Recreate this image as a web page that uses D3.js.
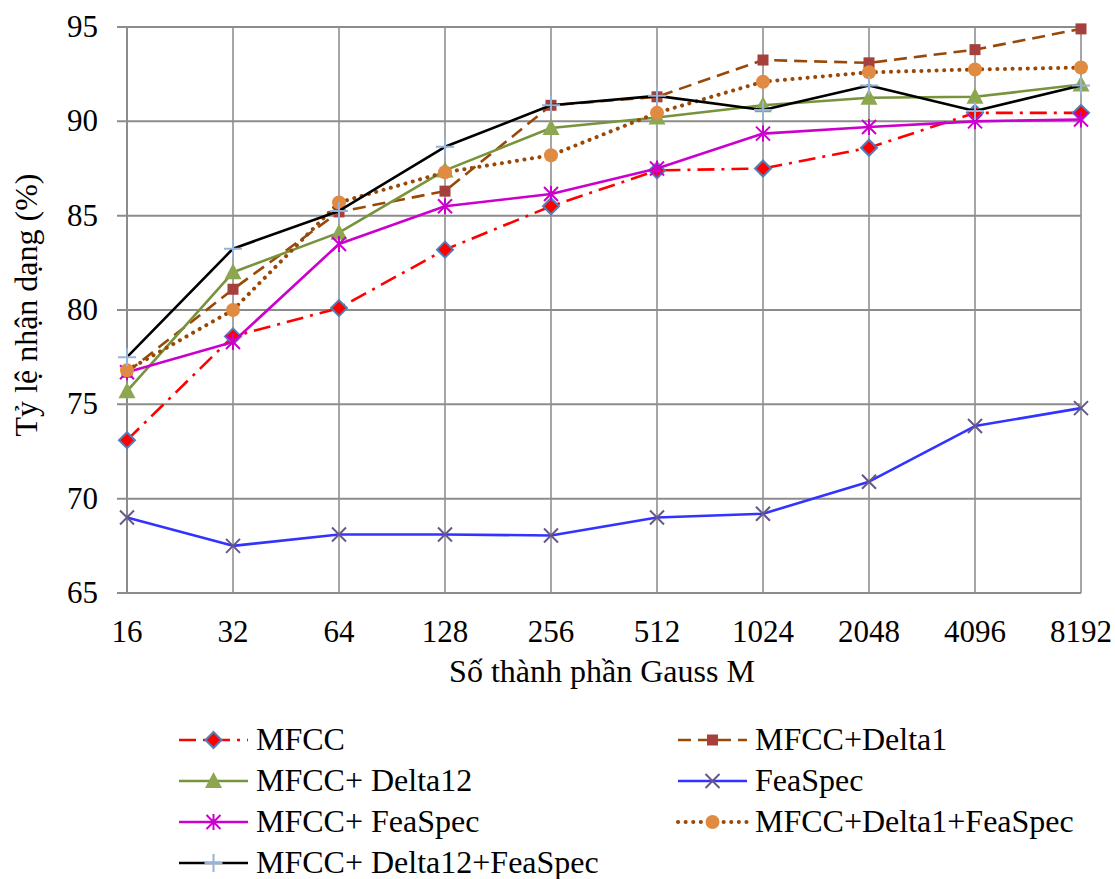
<html>
<head>
<meta charset="utf-8">
<style>
  body { margin: 0; background: #fff; }
</style>
</head>
<body>
<div id="chart"></div>
<script src="https://d3js.org/d3.v7.min.js"></script>
<script>
// categories (Gauss components)
var categories = ["16", "32", "64", "128", "256", "512", "1024", "2048", "4096", "8192"];
var yTicks = [65, 70, 75, 80, 85, 90, 95];

// series values
var mfcc          = [73.1, 78.6, 80.1, 83.2, 85.5, 87.4, 87.5, 88.6, 90.45, 90.45];
var mfccD1        = [76.7, 81.1, 85.2, 86.3, 90.85, 91.3, 93.25, 93.1, 93.8, 94.9];
var mfccD12       = [75.7, 82.0, 84.1, 87.4, 89.65, 90.2, 90.85, 91.25, 91.3, 91.95];
var feaSpec       = [69.0, 67.5, 68.1, 68.1, 68.05, 69.0, 69.2, 70.9, 73.85, 74.8];
var mfccFea       = [76.7, 78.3, 83.5, 85.5, 86.15, 87.5, 89.35, 89.7, 90.0, 90.1];
var mfccD1Fea     = [76.8, 80.0, 85.7, 87.3, 88.2, 90.45, 92.1, 92.6, 92.75, 92.85];
var mfccD12Fea    = [77.5, 83.25, 85.25, 88.65, 90.85, 91.35, 90.6, 91.9, 90.55, 91.9];

var seriesNames = ["MFCC", "MFCC+Delta1", "MFCC+ Delta12", "FeaSpec",
                   "MFCC+ FeaSpec", "MFCC+Delta1+FeaSpec", "MFCC+ Delta12+FeaSpec"];
var seriesValues = [mfcc, mfccD1, mfccD12, feaSpec, mfccFea, mfccD1Fea, mfccD12Fea];

// look of each series
var styles = [
  {line: "#ff0000", dash: "17,7,3,7", marker: "diamond", fill: "#ff0000", stroke: "#4f81bd"},
  {line: "#984807", dash: "13,7",     marker: "square",  fill: "#a5403c", stroke: "#a5403c"},
  {line: "#77933c", dash: null,       marker: "triangle",fill: "#8da750", stroke: "#8da750"},
  {line: "#3333ff", dash: null,       marker: "x",       fill: "none",    stroke: "#65578a"},
  {line: "#cc00cc", dash: null,       marker: "star",    fill: "none",    stroke: "#cc00cc"},
  {line: "#984807", dash: "0.1,7.5",  marker: "circle",  fill: "#e08a42", stroke: "#e08a42", dot: true},
  {line: "#000000", dash: null,       marker: "plus",    fill: "none",    stroke: "#95b3d7"}
];

var FONT = "'Liberation Serif', 'Times New Roman', 'DejaVu Serif', serif";

var svg = d3.select("#chart").append("svg")
  .attr("width", 1115).attr("height", 879)
  .attr("font-family", FONT);

var x = d3.scalePoint().domain(categories).range([127, 1081]);
var y = d3.scaleLinear().domain([65, 95]).range([593, 27]);

// vertical gridlines
svg.append("g").selectAll("line").data(categories).enter().append("line")
  .attr("x1", function(d) { return x(d); }).attr("x2", function(d) { return x(d); })
  .attr("y1", y(95)).attr("y2", y(65))
  .style("stroke", "#a6a6a6").style("stroke-width", 2);

// horizontal gridlines (with little ticks to the left)
svg.append("g").selectAll("line").data(yTicks).enter().append("line")
  .attr("x1", 117).attr("x2", 1081)
  .attr("y1", function(d) { return y(d); }).attr("y2", function(d) { return y(d); })
  .style("stroke", "#8c8c8c").style("stroke-width", 2);

// left axis line
svg.append("line").attr("x1", 127).attr("x2", 127).attr("y1", y(95)).attr("y2", y(65))
  .style("stroke", "#8c8c8c").style("stroke-width", 2);

// tick labels
svg.append("g").selectAll("text").data(yTicks).enter().append("text")
  .attr("x", 98).attr("y", function(d) { return y(d) + 10; })
  .attr("text-anchor", "end").attr("font-family", FONT).style("font-size", "31px")
  .text(function(d) { return d; });

svg.append("g").selectAll("text").data(categories).enter().append("text")
  .attr("x", function(d) { return x(d); }).attr("y", 642)
  .attr("text-anchor", "middle").attr("font-family", FONT).style("font-size", "31px")
  .text(function(d) { return d; });

// axis titles
svg.append("text").attr("x", 602).attr("y", 682).attr("text-anchor", "middle")
  .attr("font-family", FONT).style("font-size", "32px").text("Số thành phần Gauss M");
svg.append("text").attr("transform", "translate(37,305) rotate(-90)")
  .attr("text-anchor", "middle").attr("font-family", FONT)
  .style("font-size", "32px").text("Tỷ lệ nhận dạng (%)");

function drawMarker(g, type, cx, cy, st) {
  if (type == "diamond") {
    g.append("path").attr("d", "M" + cx + "," + (cy - 8) + "L" + (cx + 8) + "," + cy + "L" + cx + "," + (cy + 8) + "L" + (cx - 8) + "," + cy + "Z")
      .style("fill", st.fill).style("stroke", st.stroke).style("stroke-width", 2);
  } else if (type == "square") {
    g.append("rect").attr("x", cx - 5.5).attr("y", cy - 5.5).attr("width", 11).attr("height", 11)
      .style("fill", st.fill);
  } else if (type == "triangle") {
    g.append("path").attr("d", "M" + cx + "," + (cy - 9) + "L" + (cx + 8.5) + "," + (cy + 7) + "L" + (cx - 8.5) + "," + (cy + 7) + "Z")
      .style("fill", st.fill);
  } else if (type == "circle") {
    g.append("circle").attr("cx", cx).attr("cy", cy).attr("r", 7).style("fill", st.fill);
  } else {
    var p = "";
    if (type == "x" || type == "star") p += "M" + (cx - 7) + "," + (cy - 7) + "L" + (cx + 7) + "," + (cy + 7) + "M" + (cx - 7) + "," + (cy + 7) + "L" + (cx + 7) + "," + (cy - 7);
    if (type == "star") p += "M" + cx + "," + (cy - 8) + "L" + cx + "," + (cy + 8);
    if (type == "plus") p += "M" + (cx - 9) + "," + cy + "L" + (cx + 9) + "," + cy + "M" + cx + "," + (cy - 9) + "L" + cx + "," + (cy + 9);
    g.append("path").attr("d", p).style("fill", "none").style("stroke", st.stroke).style("stroke-width", 2);
  }
}

var line = d3.line()
  .x(function(d, i) { return x(categories[i]); })
  .y(function(d) { return y(d); });

seriesValues.forEach(function(vals, s) {
  var st = styles[s];
  var g = svg.append("g");
  var path = g.append("path").datum(vals).attr("d", line)
    .style("fill", "none").style("stroke", st.line)
    .style("stroke-width", st.dot ? 4 : 2.6)
    .style("stroke-linejoin", "round");
  if (st.dash) path.style("stroke-dasharray", st.dash);
  if (st.dot) path.style("stroke-linecap", "round");
  vals.forEach(function(v, i) { drawMarker(g, st.marker, x(categories[i]), y(v), st); });
});

// legend: two columns, filled row by row
var legend = svg.append("g");
seriesNames.forEach(function(name, s) {
  var col = s % 2, row = Math.floor(s / 2);
  var lx = col == 0 ? 179 : 678;
  var ly = 740 + row * 41;
  var st = styles[s];
  var g = legend.append("g");
  var l = g.append("line").attr("x1", lx).attr("x2", lx + 69).attr("y1", ly).attr("y2", ly)
    .style("stroke", st.line).style("stroke-width", st.dot ? 4 : 2.6);
  if (st.dash) l.style("stroke-dasharray", st.dash);
  if (st.dot) l.style("stroke-linecap", "round");
  drawMarker(g, st.marker, lx + 34.5, ly, st);
  g.append("text").attr("x", lx + 77).attr("y", ly + 10).attr("font-family", FONT)
    .style("font-size", "32px").text(name);
});
</script>
</body>
</html>
